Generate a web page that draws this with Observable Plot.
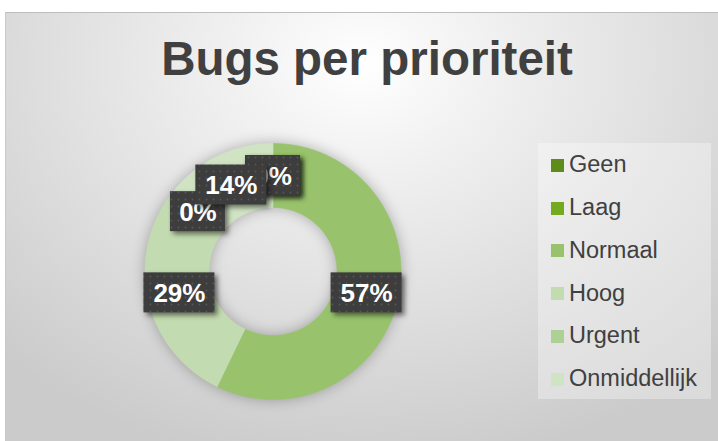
<!DOCTYPE html>
<html>
<head>
<meta charset="utf-8">
<script src="https://cdn.jsdelivr.net/npm/d3@7"></script>
<script src="https://cdn.jsdelivr.net/npm/@observablehq/plot@0.6"></script>
<style>
  html, body { margin: 0; padding: 0; background: #ffffff; width: 718px; height: 441px; overflow: hidden; }
  body { position: relative; font-family: "Liberation Sans", Arial, sans-serif; }
  #bg { position: absolute; left: 5px; top: 12px; width: 713px; height: 429px; box-sizing: border-box;
        border-top: 1px solid #bdbdbd; border-left: 1px solid #c9c9c9;
        background: radial-gradient(ellipse 72% 95% at 50% 12%, #ffffff 0%, #f1f1f1 25%, #e2e2e2 55%, #cbcbcb 100%); }
  #chart { position: absolute; left: 0; top: 0; }
  #title { position: absolute; left: 0; width: 734px; top: 35px; text-align: center; font-size: 47.5px; line-height: 47px;
           font-weight: bold; color: #404040; white-space: nowrap; }
  #legendbox { position: absolute; left: 538px; top: 143px; width: 173px; height: 256px; background: rgba(255,255,255,0.32); }
  .sw { position: absolute; left: 551px; width: 13px; height: 13px; }
  .lt { position: absolute; left: 569px; font-size: 23.5px; line-height: 23.5px; color: #404040; white-space: nowrap; }
</style>
</head>
<body>
<div id="bg"></div>
<div id="title"></div>
<div id="legendbox"></div>
<div id="chart"></div>
<div id="legend"></div>
<script>
const title = "Bugs per prioriteit";
const categories = ["Geen", "Laag", "Normaal", "Hoog", "Urgent", "Onmiddellijk"];
const counts = [0, 0, 4, 2, 0, 1];
const colors = ["#5e8c1b", "#74aa1d", "#98c36c", "#c3dbb0", "#add094", "#d0e4c4"];

document.getElementById("title").textContent = title;

const total = d3.sum(counts);
const innerR = 0.5;
let acc = 0;
const slices = categories.map((cat, i) => {
  const a0 = acc / total * 2 * Math.PI;
  acc += counts[i];
  const a1 = acc / total * 2 * Math.PI;
  const am = (a0 + a1) / 2;
  const rm = (1 + innerR) / 2;
  return {cat, value: counts[i], a0, a1,
    label: Math.round(counts[i] / total * 100) + "%",
    lx: rm * Math.sin(am), ly: rm * Math.cos(am)};
});

// ring outline points for each slice (geometry of the arc)
const ringPts = [];
slices.forEach(s => {
  if (s.value === 0) return;
  const n = Math.max(2, Math.ceil((s.a1 - s.a0) / 0.01));
  for (let k = 0; k <= n; k++) {
    const a = s.a0 + (s.a1 - s.a0) * k / n;
    ringPts.push({cat: s.cat, x: Math.sin(a), y: Math.cos(a)});
  }
  for (let k = n; k >= 0; k--) {
    const a = s.a0 + (s.a1 - s.a0) * k / n;
    ringPts.push({cat: s.cat, x: innerR * Math.sin(a), y: innerR * Math.cos(a)});
  }
});

const R = 128; // px per data unit
const boxH = 20 / R;
const boxW = s => (s.label.length <= 2 ? 27.5 : 35.5) / R;

const labelMarks = slices.flatMap(s => [
  Plot.rect([s], {x1: d => d.lx - boxW(d), x2: d => d.lx + boxW(d), y1: d => d.ly - boxH, y2: d => d.ly + boxH,
    fill: "url(#dots)", inset: 0}),
  Plot.text([s], {x: "lx", y: "ly", text: "label", fill: "white", fontSize: 26, fontWeight: "bold", dy: 1})
]);

const cx = 272.5, cy = 271;
const plot = Plot.plot({
  width: 718,
  height: 441,
  style: {background: "transparent", fontFamily: "'Liberation Sans', Arial, sans-serif", overflow: "visible"},
  x: {domain: [-1, 1], range: [cx - R, cx + R], axis: null},
  y: {domain: [-1, 1], range: [cy + R, cy - R], axis: null},
  color: {type: "ordinal", domain: categories, range: colors},
  marks: [
    Plot.line(ringPts, {x: "x", y: "y", z: "cat", fill: "cat", stroke: "cat", strokeWidth: 0.6, curve: "linear"}),
    ...labelMarks
  ]
});

const svg = d3.select(plot);
const defs = svg.insert("defs", ":first-child");
const pat = defs.append("pattern").attr("id", "dots").attr("width", 7).attr("height", 7).attr("patternUnits", "userSpaceOnUse");
pat.append("rect").attr("width", 7).attr("height", 7).attr("fill", "#3d3d3d");
pat.append("circle").attr("cx", 3.5).attr("cy", 3.5).attr("r", 0.9).attr("fill", "#575757");
svg.selectAll("g[aria-label='line']").style("filter", "drop-shadow(0px 0px 7px rgba(0,0,0,0.28))");
svg.selectAll("g[aria-label='rect']").style("filter", "drop-shadow(3px 3px 2.5px rgba(0,0,0,0.5))");
document.getElementById("chart").appendChild(plot);

// legend using the plot's color scale
const colorScale = plot.scale("color");
const legend = document.getElementById("legend");
categories.forEach((c, i) => {
  const base = 173.3 + i * 42.7;
  const sw = document.createElement("div");
  sw.className = "sw";
  sw.style.top = (base - 14.3) + "px";
  sw.style.background = colorScale.apply(c);
  legend.appendChild(sw);
  const t = document.createElement("div");
  t.className = "lt";
  t.style.top = (base - 19.9) + "px";
  t.textContent = c;
  legend.appendChild(t);
});
</script>
</body>
</html>
